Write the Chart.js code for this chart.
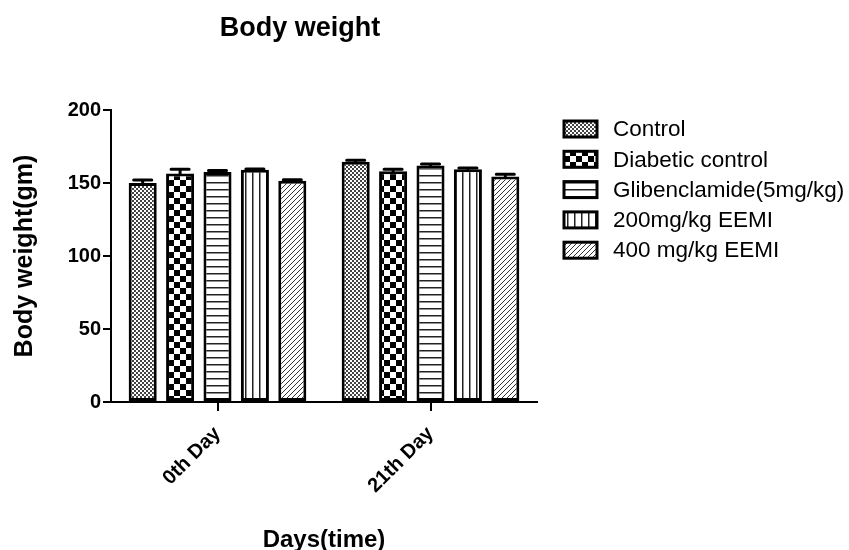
<!DOCTYPE html>
<html>
<head>
<meta charset="utf-8">
<script src="https://cdn.jsdelivr.net/npm/chart.js@4"></script>
<style>
  body { margin: 0; background: #fff; }
  canvas { display: block; }
</style>
</head>
<body>
<canvas id="chart" width="849" height="550"></canvas>
<script>
const days = ["0th Day", "21th Day"];
const groupNames = ["Control", "Diabetic control", "Glibenclamide(5mg/kg)", "200mg/kg EEMI", "400 mg/kg EEMI"];

// mean body weight per group, one array per group: [0th day, 21th day]
const controlValues = [150, 164.5];
const diabeticValues = [156.5, 158];
const glibValues = [157.5, 162];
const eemi200Values = [159, 159.5];
const eemi400Values = [151.5, 154.5];

// error bar (upper) per group
const controlErr = [2, 1];
const diabeticErr = [3, 1.5];
const glibErr = [1, 1];
const eemi200Err = [0.6, 0.8];
const eemi400Err = [0.8, 1.5];

const yTicks = [0, 50, 100, 150, 200];

const FONT = "'Liberation Sans', Arial, sans-serif";

// black & white fill patterns like the GraphPad original
function makePattern(kind) {
  const c = document.createElement("canvas");
  const g = c.getContext("2d");
  if (kind === "fineCheck") {
    c.width = c.height = 4;
    g.fillStyle = "#fff"; g.fillRect(0, 0, 4, 4);
    g.fillStyle = "#444";
    g.fillRect(0, 0, 2, 2); g.fillRect(2, 2, 2, 2);
  } else if (kind === "bigCheck") {
    c.width = c.height = 12;
    g.fillStyle = "#fff"; g.fillRect(0, 0, 12, 12);
    g.fillStyle = "#000";
    g.fillRect(0, 0, 6, 6); g.fillRect(6, 6, 6, 6);
  } else if (kind === "hLines") {
    c.width = 8; c.height = 7;
    g.fillStyle = "#fff"; g.fillRect(0, 0, 8, 7);
    g.fillStyle = "#222"; g.fillRect(0, 0, 8, 1.5);
  } else if (kind === "vLines") {
    c.width = 7; c.height = 8;
    g.fillStyle = "#fff"; g.fillRect(0, 0, 7, 8);
    g.fillStyle = "#222"; g.fillRect(0, 0, 1.5, 8);
  } else {
    c.width = c.height = 5;
    g.fillStyle = "#fff"; g.fillRect(0, 0, 5, 5);
    g.strokeStyle = "#333"; g.lineWidth = 1;
    g.beginPath();
    g.moveTo(-1, 6); g.lineTo(6, -1);
    g.moveTo(-1, 1); g.lineTo(1, -1);
    g.moveTo(4, 6); g.lineTo(6, 4);
    g.stroke();
  }
  return g.createPattern(c, "repeat");
}

const ctx = document.getElementById("chart").getContext("2d");

function bars(label, values, errors, kind) {
  return {
    label: label,
    data: values,
    errors: errors,
    backgroundColor: makePattern(kind),
    borderColor: "#000",
    borderWidth: 3,
    borderSkipped: false,
    categoryPercentage: 0.878,
    barPercentage: 0.75
  };
}

// error bars, title and legend drawn on top
const extras = {
  id: "extras",
  afterDatasetsDraw(chart) {
    const c = chart.ctx;
    const y = chart.scales.y;
    c.save();
    c.strokeStyle = "#000";
    c.lineWidth = 3;
    c.lineCap = "round";
    chart.data.datasets.forEach((ds, i) => {
      chart.getDatasetMeta(i).data.forEach((bar, j) => {
        const top = y.getPixelForValue(ds.data[j] + ds.errors[j]);
        const half = bar.width / 2 - 5;
        c.beginPath();
        c.moveTo(bar.x, bar.y);
        c.lineTo(bar.x, top);
        c.moveTo(bar.x - half, top);
        c.lineTo(bar.x + half, top);
        c.stroke();
      });
    });
    c.restore();
  },
  afterDraw(chart) {
    const c = chart.ctx;
    c.save();
    c.fillStyle = "#000";
    c.font = "bold 27px " + FONT;
    c.textAlign = "center";
    c.textBaseline = "alphabetic";
    c.fillText("Body weight", 300, 36);

    // legend
    c.textAlign = "left";
    c.textBaseline = "middle";
    c.font = "22.5px " + FONT;
    chart.data.datasets.forEach((ds, i) => {
      const cy = 129 + i * 30.3;
      c.fillStyle = ds.backgroundColor;
      c.fillRect(564, cy - 8, 33, 16);
      c.strokeStyle = "#000";
      c.lineWidth = 3;
      c.strokeRect(564, cy - 8, 33, 16);
      c.fillStyle = "#000";
      c.fillText(ds.label, 613, cy + 1);
    });
    c.restore();
  }
};

new Chart(ctx, {
  type: "bar",
  data: {
    labels: days,
    datasets: [
      bars(groupNames[0], controlValues, controlErr, "fineCheck"),
      bars(groupNames[1], diabeticValues, diabeticErr, "bigCheck"),
      bars(groupNames[2], glibValues, glibErr, "hLines"),
      bars(groupNames[3], eemi200Values, eemi200Err, "vLines"),
      bars(groupNames[4], eemi400Values, eemi400Err, "diag")
    ]
  },
  plugins: [extras],
  options: {
    responsive: false,
    animation: false,
    layout: { padding: { top: 110, right: 312, bottom: 0, left: 0 } },
    plugins: {
      legend: { display: false },
      tooltip: { enabled: false }
    },
    scales: {
      x: {
        offset: true,
        grid: { display: true, offset: false, drawOnChartArea: false, drawTicks: true, tickLength: 9, color: "#000", lineWidth: 2 },
        border: { display: true, color: "#000", width: 2 },
        ticks: {
          color: "#000",
          font: { family: FONT, size: 20, weight: "bold" },
          minRotation: 45,
          maxRotation: 45,
          padding: 11
        },
        title: {
          display: true,
          text: "Days(time)",
          color: "#000",
          font: { family: FONT, size: 24, weight: "bold" },
          padding: { top: 0, bottom: -5 }
        },
        afterFit(scale) { scale.height = 148; }
      },
      y: {
        min: 0,
        max: 200,
        afterBuildTicks(scale) { scale.ticks = yTicks.map(v => ({ value: v })); },
        grid: { display: true, drawOnChartArea: false, drawTicks: true, tickLength: 8, color: "#000", lineWidth: 2 },
        border: { display: true, color: "#000", width: 2 },
        ticks: {
          color: "#000",
          font: { family: FONT, size: 20, weight: "bold" },
          padding: 2
        },
        title: {
          display: true,
          text: "Body weight(gm)",
          color: "#000",
          font: { family: FONT, size: 25, weight: "bold" },
          padding: { top: 10, bottom: 0 }
        },
        afterFit(scale) { scale.width = 111; }
      }
    }
  }
});
</script>
</body>
</html>
